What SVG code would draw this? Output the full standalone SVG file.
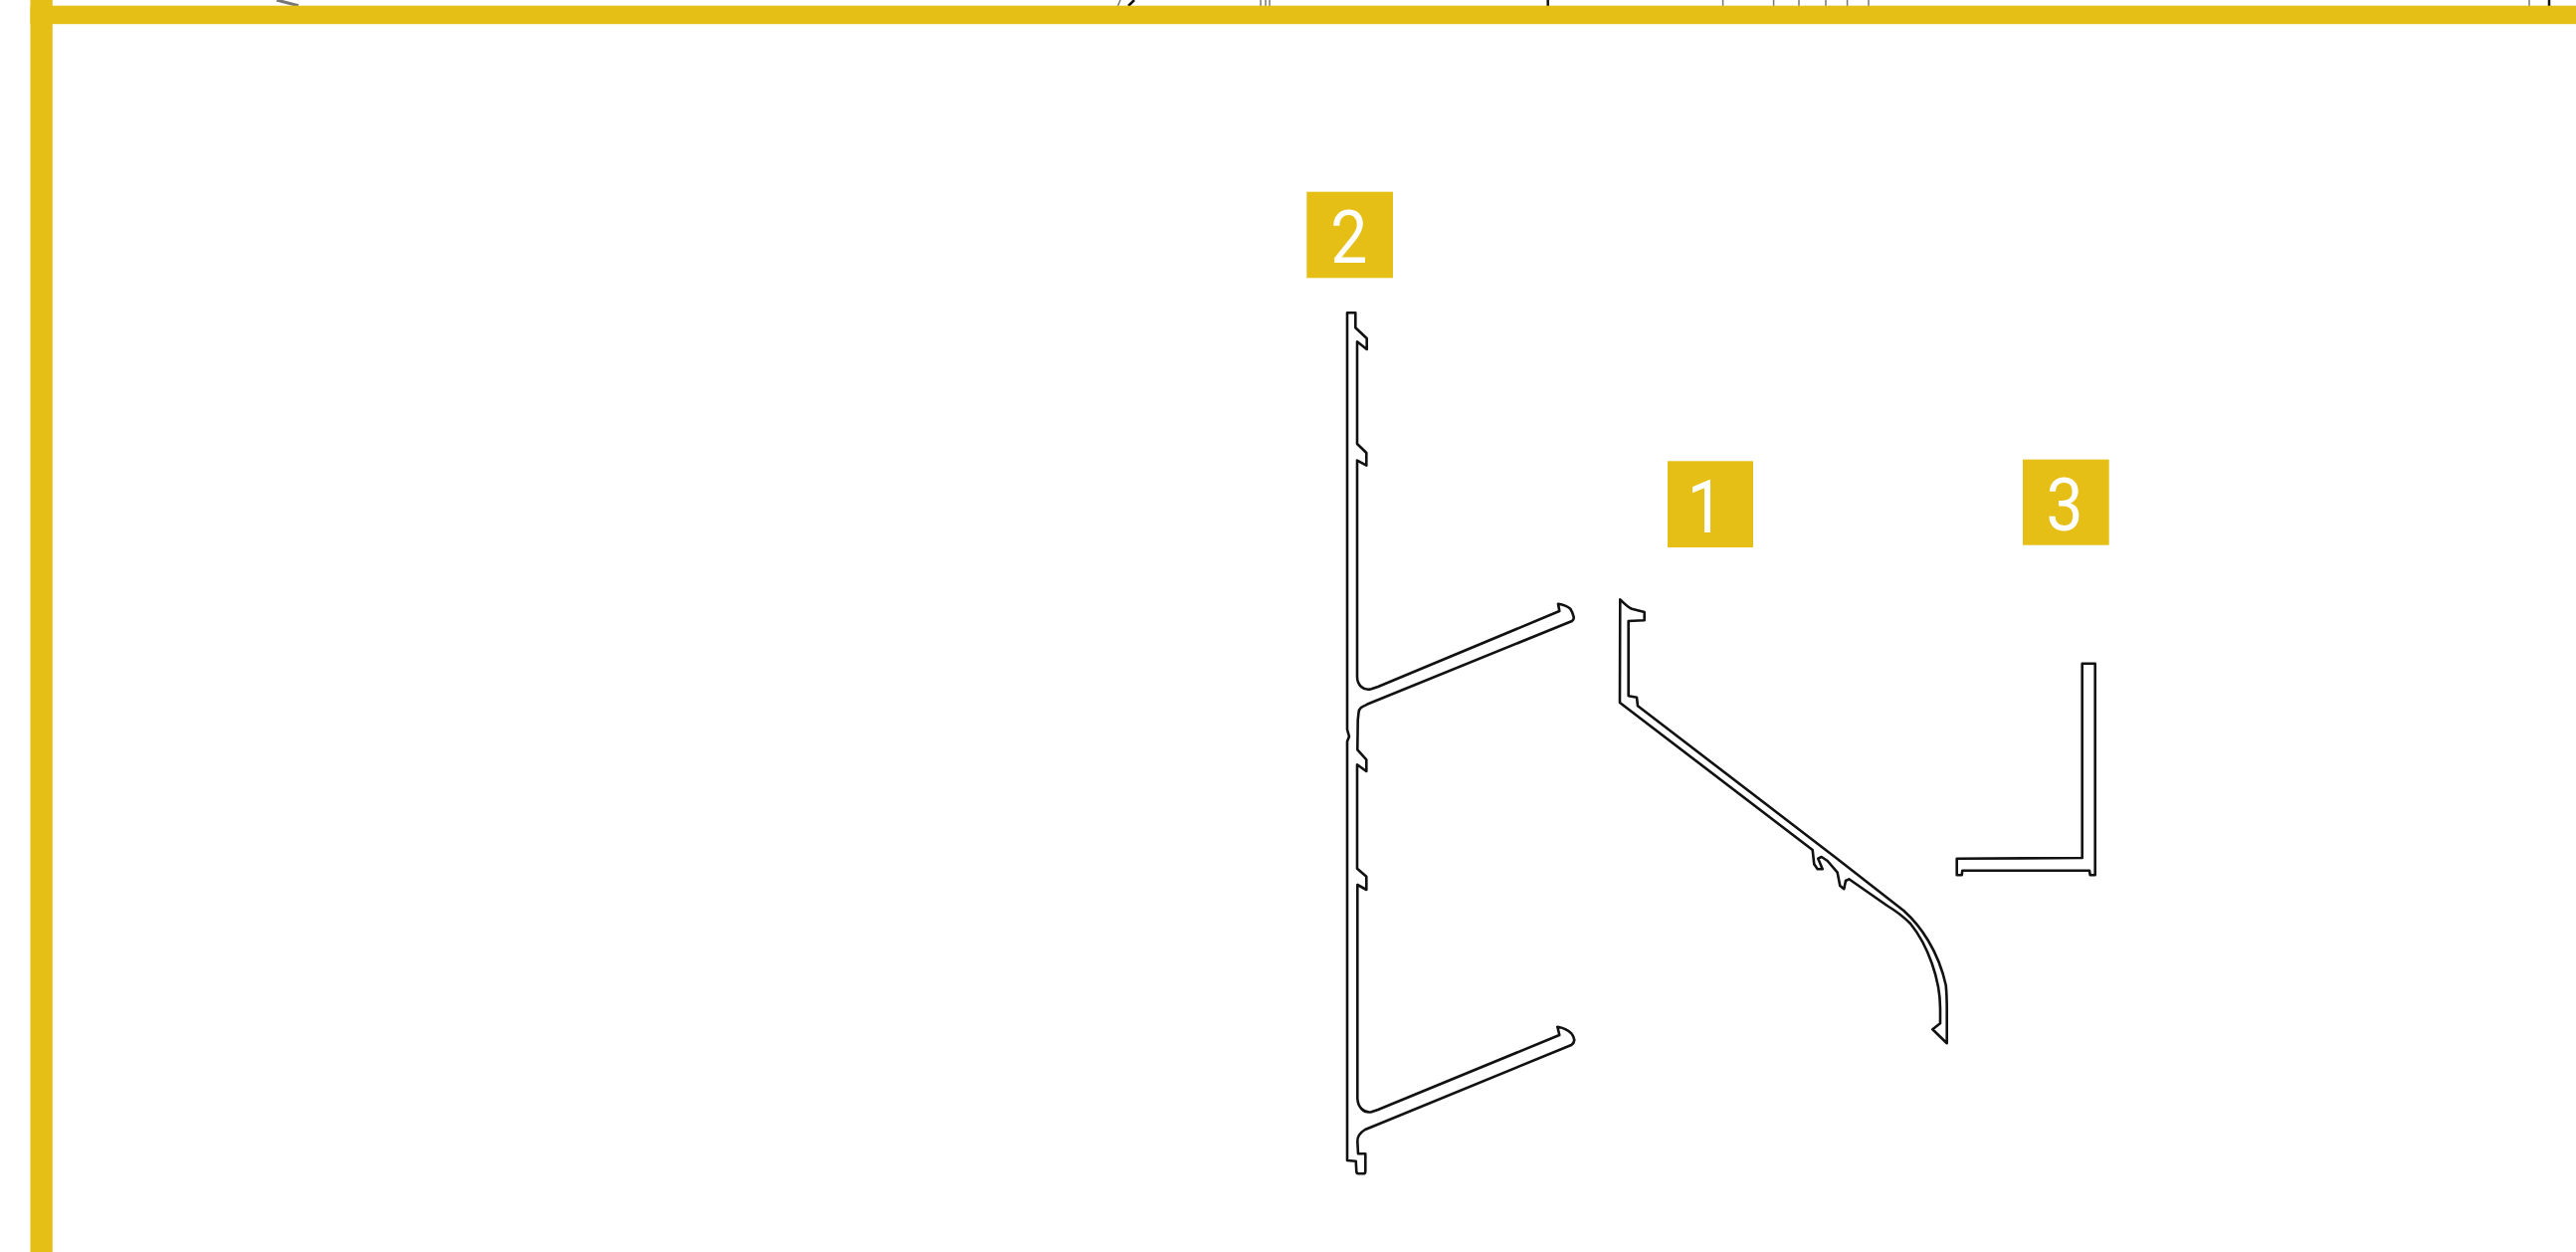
<svg xmlns="http://www.w3.org/2000/svg" width="2589" height="1258" viewBox="0 0 2589 1258">
<style>
.bar{fill:#e6bf16}
.badge{fill:#e6bf16}
.num{fill:#fff;font-family:Roboto,"Liberation Sans",sans-serif;font-weight:400;font-size:75px;text-anchor:middle}
.profile{fill:none;stroke:#111;stroke-width:2.6;stroke-linejoin:round;stroke-linecap:round}
.tick{stroke:#777;stroke-width:1.5;fill:none}
.tickd{stroke:#111;stroke-width:2.5;fill:none}
</style>
<rect width="2589" height="1258" fill="#fff"/>
<g id="cut-off-remains">
<path class="tick" d="M278 0L300 5.7" style="stroke-width:3"/>
<path class="tick" d="M1126 0L1123.5 6"/>
<path class="tickd" d="M1140 0L1134 6"/>
<path class="tick" d="M1267 0V6M1272 0V6M1276 0V6"/>
<path class="tickd" d="M1555.7 0V6"/>
<path class="tick" d="M1731.6 0V6M1782.6 0V6M1808 0V6M1835 0V6M1856.6 0V6M1878 0V6M2542 0V6"/>
<path class="tickd" d="M2562 0V6"/>
</g>
<g id="frame">
<rect class="bar" x="30.5" y="0" width="22.3" height="1258"/>
<rect class="bar" x="30.5" y="5.7" width="2558.5" height="18.5"/>
</g>
<g id="node-2">
<rect class="badge" x="1313.3" y="192.7" width="86.7" height="86.6"/>
<text class="num" transform="translate(1355.7 264) scale(.88 1)">2</text>
<path class="profile" d="M1354 314.3H1362.3V329.3L1373.7 340V351L1364 343.3V446L1373.3 455V467.7L1364 462.7V680C1364 688 1370 694.5 1378.3 692.3L1385 690L1567.3 614L1566 606.7Q1574 608 1578.3 611.7Q1581 616 1581.7 620Q1582 622.5 1580 624L1375 707.3C1369 710 1366 711 1365.5 716L1364.7 723.3L1364.3 753.3L1373.3 763.3V775L1364 768.3V872.7L1373.3 880.7V894L1364.3 889V1103.3C1364.5 1112 1370 1118.5 1378.3 1117.3L1385 1115L1567.3 1040L1565.3 1031.7Q1574 1033 1579.3 1038.3Q1582 1042 1582.3 1045Q1582 1048 1579.3 1050L1380 1131.7L1372 1135C1367 1138 1364.3 1142 1364.3 1146.7L1365 1159.3H1372.3V1176.7Q1372.3 1179.3 1370 1179.3H1365.5Q1363.3 1179.3 1363.3 1177L1362.7 1166.7L1354 1166V745L1356 740L1354 733Z"/>
</g>
<g id="node-1">
<rect class="badge" x="1676" y="463.3" width="86" height="86.7"/>
<text class="num" transform="translate(1714 535) scale(.88 1)">1</text>
<path class="profile" d="M1628.3 602.3C1632 606 1636 610 1640 611.7L1652.7 615V623.3L1636.7 624V699.3L1645 700.7L1646 709.3L1845 861.7L1913.3 915C1930 930 1948 955 1955.7 990C1956.5 998 1956.7 1005 1956.7 1015V1048.3L1942.3 1034.3L1950 1028.3V1013C1950 985 1938 950 1920 928C1913 921 1905 915 1896.7 910L1858.3 883.3L1855 885L1853.3 893.3L1849.3 890L1846.7 876.7L1836.7 865L1830.7 861L1827.3 862.7L1831.7 873.3L1826.7 873.3L1823.3 868.3L1821.7 854L1628 706Z"/>
</g>
<g id="node-3">
<rect class="badge" x="2033" y="461.7" width="86.7" height="86"/>
<text class="num" transform="translate(2075 533) scale(.88 1)">3</text>
<path class="profile" d="M2092.7 666.7H2105.7V879.3H2100.7L2100 874.7H1972.3L1971.7 879.3H1966.7V862.7L2092.7 862Z"/>
</g>
</svg>
